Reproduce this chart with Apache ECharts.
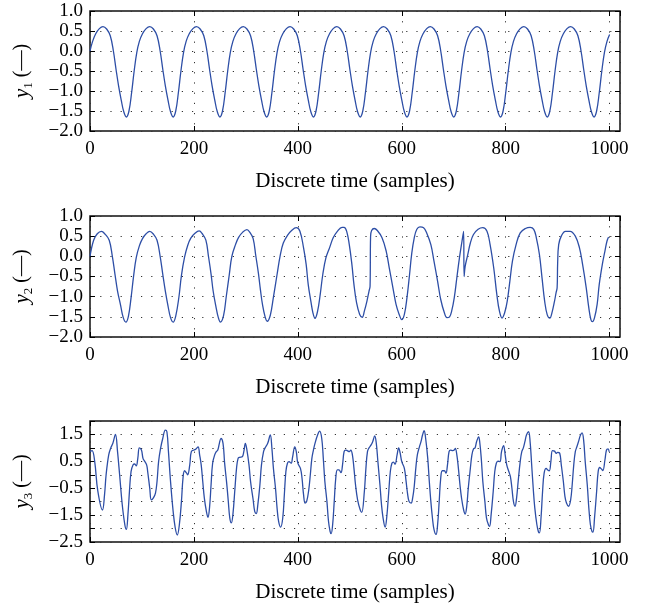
<!DOCTYPE html>
<html>
<head>
<meta charset="utf-8">
<script src="https://cdn.jsdelivr.net/npm/echarts@6/dist/echarts.min.js"></script>
<style>html,body{margin:0;padding:0;background:#fff}#c{width:645px;height:605px}</style>
</head>
<body>
<div id="c"></div>
<script>
// ---- data (sample index, value) ----
const t1 = [0,5,11,18,25,
 32,39,45,50,55,60,65,70,75,80,85,90,95,101,108,115,
 122,129,135,140,145,150,155,160,165,170,175,180,185,191,198,205,
 212,219,225,230,235,240,245,250,255,260,265,270,275,281,288,295,
 302,309,315,320,325,330,335,340,345,350,355,360,365,371,378,385,
 392,399,405,410,415,420,425,430,435,440,445,450,455,461,468,475,
 482,489,495,500,505,510,515,520,525,530,535,540,545,551,558,565,
 572,579,585,590,595,600,605,610,615,620,625,630,635,641,648,655,
 662,669,675,680,685,690,695,700,705,710,715,720,725,731,738,745,
 752,759,765,770,775,780,785,790,795,800,805,810,815,821,828,835,
 842,849,855,860,865,870,875,880,885,890,895,900,905,911,918,925,
 932,939,945,950,955,960,965,970,975,980,985,990,995,1000];
const y1 = [0.0,0.24,0.43,0.56,0.61,
 0.55,0.38,0.0,-0.45,-0.87,-1.22,-1.52,-1.65,-1.50,-1.05,-0.50,-0.04,0.24,0.43,0.56,0.61,
 0.55,0.38,0.0,-0.45,-0.87,-1.22,-1.52,-1.65,-1.50,-1.05,-0.50,-0.04,0.24,0.43,0.56,0.61,
 0.55,0.38,0.0,-0.45,-0.87,-1.22,-1.52,-1.65,-1.50,-1.05,-0.50,-0.04,0.24,0.43,0.56,0.61,
 0.55,0.38,0.0,-0.45,-0.87,-1.22,-1.52,-1.65,-1.50,-1.05,-0.50,-0.04,0.24,0.43,0.56,0.61,
 0.55,0.38,0.0,-0.45,-0.87,-1.22,-1.52,-1.65,-1.50,-1.05,-0.50,-0.04,0.24,0.43,0.56,0.61,
 0.55,0.38,0.0,-0.45,-0.87,-1.22,-1.52,-1.65,-1.50,-1.05,-0.50,-0.04,0.24,0.43,0.56,0.61,
 0.55,0.38,0.0,-0.45,-0.87,-1.22,-1.52,-1.65,-1.50,-1.05,-0.50,-0.04,0.24,0.43,0.56,0.61,
 0.55,0.38,0.0,-0.45,-0.87,-1.22,-1.52,-1.65,-1.50,-1.05,-0.50,-0.04,0.24,0.43,0.56,0.61,
 0.55,0.38,0.0,-0.45,-0.87,-1.22,-1.52,-1.65,-1.50,-1.05,-0.50,-0.04,0.24,0.43,0.56,0.61,
 0.55,0.38,0.0,-0.45,-0.87,-1.22,-1.52,-1.65,-1.50,-1.05,-0.50,-0.04,0.24,0.43,0.56,0.61,
 0.55,0.38,0.0,-0.45,-0.87,-1.22,-1.52,-1.65,-1.50,-1.05,-0.50,-0.04,0.24,0.41];

const t2 = [0,7,14,22,29,37,43,48,53,59,64,69,74,79,84,89,95,101,108,115,
 122,129,135,140,145,150,155,160,165,171,176,182,188,194,202,210,
 216,223,228,233,237,242,247,251,257,262,268,273,280,286,294,302,
 308,314,319,324,328,332,337,341,347,353,360,366,372,380,388,397,
 404,411,416,420,425,429,433,438,443,448,454,461,468,476,485,489,494,499,504,508,513,519,524,528,533,537,539,
 540,542,547,553,562,570,576,583,589,595,600,605,610,615,619,624,629,635,642,648,656,662,669,675,682,687,692,696,701,706,711,716,719,
 720,722,727,732,738,747,756,764,770,777,783,788,793,798,803,808,813,820,828,838,847,854,859,865,870,875,880,885,889,894,897,899,
 900,902,907,915,924,934,942,948,955,960,964,967,971,976,980,986,991,995,998];
const y2 = [0.0,0.40,0.56,0.62,0.55,0.40,0.0,-0.44,-0.86,-1.22,-1.52,-1.63,-1.48,-1.03,-0.48,-0.03,0.26,0.44,0.56,0.62,
 0.55,0.40,0.0,-0.44,-0.86,-1.22,-1.52,-1.63,-1.48,-1.02,-0.47,-0.02,0.27,0.45,0.57,0.63,
 0.56,0.40,0.0,-0.44,-0.86,-1.22,-1.52,-1.63,-1.47,-1.02,-0.46,0.0,0.29,0.47,0.60,0.66,
 0.59,0.44,0.02,-0.41,-0.83,-1.20,-1.50,-1.61,-1.46,-1.01,-0.45,0.02,0.33,0.52,0.64,0.71,
 0.62,0.21,-0.2,-0.7,-1.11,-1.4,-1.54,-1.36,-0.95,-0.45,-0.04,0.21,0.46,0.62,0.72,0.72,0.62,0.29,-0.2,-0.7,-1.15,-1.44,-1.51,-1.36,-1.11,-0.86,-0.74,
 0.5,0.64,0.69,0.64,0.46,0.13,-0.29,-0.78,-1.19,-1.44,-1.57,-1.44,-1.03,-0.45,0.05,0.46,0.67,0.73,0.71,0.58,0.29,-0.12,-0.62,-1.07,-1.4,-1.52,-1.5,-1.36,-1.03,-0.53,-0.04,0.38,0.62,
 -0.5,-0.25,0.04,0.33,0.54,0.67,0.71,0.62,0.29,-0.29,-0.95,-1.36,-1.53,-1.4,-1.11,-0.62,-0.12,0.29,0.58,0.69,0.72,0.67,0.46,0.04,-0.54,-1.11,-1.45,-1.53,-1.4,-1.11,-0.9,-0.78,
 -0.17,0.29,0.5,0.62,0.62,0.5,0.21,-0.2,-0.78,-1.28,-1.57,-1.62,-1.52,-1.19,-0.7,-0.2,0.13,0.38,0.48];

const t3 = [0,4,9,15,24,28,31,36,40,44,49,53,57,62,67,70,73,76,79,83,86,89,92,95,99,102,105,109,111,115,118,122,126,129,132,136,140,145,148,151,155,160,164,168,172,176,179,182,186,188,192,195,200,204,208,211,214,217,220,224,227,230,233,236,240,243,246,249,252,256,
 259,263,266,269,272,275,279,282,285,288,293,296,299,302,306,309,314,317,320,323,327,330,
 334,337,342,347,350,353,357,360,363,367,371,374,377,380,383,387,390,394,397,400,405,408,411,414,417,421,424,427,430,433,438,442,446,449,452,456,459,462,464,467,470,473,476,479,483,486,489,492,495,499,502,505,508,511,515,520,
 523,528,531,534,537,541,544,548,551,554,558,561,564,568,571,575,578,581,584,587,591,594,597,600,605,608,611,614,618,621,624,627,630,634,637,640,643,646,650,653,656,659,662,666,669,672,675,678,682,685,688,691,694,698,701,703,706,709,712,715,719,722,725,728,732,735,738,741,744,748,750,753,756,760,763,767,769,772,776,779,782,785,789,792,
 796,799,802,806,809,812,815,818,821,824,828,831,834,837,840,844,847,850,853,856,860,863,865,868,871,874,878,881,884,887,890,894,897,900,904,907,911,914,917,921,925,928,931,934,937,941,944,947,950,953,957,960,963,966,968,971,975,978,981,984,987,991,994,997,999];
const y3 = [0.86,0.90,0.50,-0.60,-1.31,-0.74,0.0,0.74,1.0,1.17,1.5,0.86,0.0,-1.1,-1.85,-2.03,-1.48,-0.6,0.12,0.37,0.40,0.33,0.61,1.0,0.92,0.61,0.51,0.37,0.12,-0.5,-0.93,-0.86,-0.68,-0.25,0.49,1.0,1.35,1.66,1.6,0.86,-0.25,-1.36,-1.97,-2.24,-1.85,-0.98,-0.12,0.15,0.06,0.0,0.37,0.86,0.92,0.96,1.04,0.74,0.37,-0.25,-0.86,-1.36,-1.58,-1.23,-0.37,0.43,0.74,0.86,0.92,1.17,1.35,1.17,
 0.45,-0.3,-0.95,-1.6,-1.79,-1.48,-0.5,0.24,0.61,0.65,0.67,0.86,1.17,0.92,0.37,-0.25,-0.93,-1.36,-1.44,-1.11,-0.37,0.37,
 0.86,1.0,1.17,1.48,1.0,0.24,-0.5,-1.23,-1.73,-1.95,-1.6,-0.74,0.12,0.43,0.49,0.43,0.67,1.04,0.86,0.43,0.24,-0.12,-0.74,-1.05,-0.99,-0.56,0.0,0.61,0.92,1.17,1.48,1.62,1.35,0.61,-0.25,-1.0,-1.73,-2.1,-2.19,-1.85,-1.0,-0.12,0.18,0.18,0.08,0.37,0.86,0.92,0.9,0.86,0.92,0.74,0.24,-0.37,-0.93,-1.3,
 -1.4,-0.62,0.24,0.86,1.0,1.11,1.23,1.45,1.17,0.5,-0.37,-1.11,-1.6,-1.95,-1.6,-0.62,0.12,0.43,0.47,0.39,0.74,1.0,0.8,0.49,0.24,-0.19,-0.68,-0.99,-1.05,-0.86,-0.43,0.24,0.74,1.04,1.23,1.48,1.64,1.35,0.61,-0.25,-1.0,-1.6,-2.03,-2.22,-1.85,-1.0,-0.12,0.15,0.15,0.06,0.37,0.86,0.92,0.9,0.92,0.98,0.74,0.24,-0.37,-0.86,-1.3,-1.46,-1.18,-0.5,0.24,0.74,0.96,1.0,1.23,1.41,1.23,0.61,-0.25,-1.0,-1.6,-1.87,-1.92,-1.48,-0.62,0.12,0.43,0.51,0.49,0.86,
 1.08,0.74,0.37,0.12,-0.06,-0.5,-1.0,-1.17,-0.86,-0.25,0.5,0.86,1.0,1.23,1.48,1.6,1.23,0.37,-0.5,-1.23,-1.85,-2.12,-2.16,-1.6,-0.62,0.06,0.24,0.18,0.15,0.5,0.9,0.88,0.8,0.83,0.8,0.37,-0.25,-0.8,-1.05,-1.17,-0.93,-0.37,0.37,0.86,1.04,1.29,1.48,1.56,1.29,0.5,-0.37,-1.23,-1.85,-2.1,-2.13,-1.6,-0.62,0.12,0.27,0.22,0.16,0.55,0.92,0.96,0.86];

const xTicks = {min: 0, max: 1020, interval: 200};
const yRange12 = {min: -2, max: 1, interval: 0.5};
const yRange3 = {min: -2.5, max: 2, interval: 0.5};
const yLabeled3 = [1.5, 0.5, -0.5, -1.5, -2.5];

// ---- layout / style ----
const FONT = 'Liberation Serif';
const LINE = '#2d4ea6';
const tops = [11, 216, 421];
const heights = [120, 121, 121];
const names = ['1', '2', '3'];

function fmt(v) {
  const s = Math.abs(v).toFixed(1);
  return v < 0 ? '\u2212' + s : s;
}

const grid = [], xAxis = [], yAxis = [], series = [];
const tick = {inside: true, length: 5, lineStyle: {color: '#000', width: 1}};
const split = {show: true, lineStyle: {color: '#333', type: [1.2, 9], width: 1}};
const noLine = {show: false, onZero: false};
for (let i = 0; i < 3; i++) {
  grid.push({left: 90, width: 530, top: tops[i], height: heights[i], show: true,
    borderColor: '#111', borderWidth: 1.5, backgroundColor: 'transparent'});
  xAxis.push({type: 'value', gridIndex: i, position: 'bottom', min: xTicks.min, max: xTicks.max, interval: xTicks.interval,
    axisLine: noLine, axisTick: tick, splitLine: split,
    axisLabel: {color: '#000', fontFamily: FONT, fontSize: 19, margin: 9, showMaxLabel: false,
      formatter: v => (v > 1000 ? '' : String(v))},
    name: 'Discrete time (samples)', nameLocation: 'middle', nameGap: 40,
    nameTextStyle: {color: '#000', fontFamily: FONT, fontSize: 21}});
  xAxis.push({type: 'value', gridIndex: i, position: 'top', min: xTicks.min, max: xTicks.max, interval: xTicks.interval,
    axisLine: noLine, axisTick: tick, splitLine: {show: false}, axisLabel: {show: false}});
  const yr = i < 2 ? yRange12 : yRange3;
  yAxis.push({type: 'value', gridIndex: i, position: 'left', min: yr.min, max: yr.max, interval: yr.interval,
    axisLine: noLine, axisTick: tick, splitLine: split,
    axisLabel: {color: '#000', fontFamily: FONT, fontSize: 19, margin: 7,
      formatter: v => {
        if (i === 2) return yLabeled3.some(a => Math.abs(a - v) < 1e-6) ? fmt(v) : '';
        return fmt(v);
      }},
    name: '{i|y}{s|' + names[i] + '}{n| (\u2014)}', nameLocation: 'middle', nameGap: 55,
    nameTextStyle: {rich: {
      i: {fontFamily: FONT, fontStyle: 'italic', fontSize: 21, color: '#000', lineHeight: 26},
      s: {fontFamily: FONT, fontSize: 13, color: '#000', verticalAlign: 'bottom', lineHeight: 26},
      n: {fontFamily: FONT, fontSize: 20, color: '#000', lineHeight: 26}
    }}});
  yAxis.push({type: 'value', gridIndex: i, position: 'right', min: yr.min, max: yr.max, interval: yr.interval,
    axisLine: noLine, axisTick: tick, splitLine: {show: false}, axisLabel: {show: false}});
}
const T = [t1, t2, t3], Y = [y1, y2, y3];
for (let i = 0; i < 3; i++) {
  series.push({type: 'line', xAxisIndex: 2 * i, yAxisIndex: 2 * i, showSymbol: false,
    smooth: 0.4, silent: true, animation: false,
    lineStyle: {color: LINE, width: 1.3},
    data: T[i].map((t, k) => [t, Y[i][k]])});
}
const chart = echarts.init(document.getElementById('c'), null, {renderer: 'canvas'});
chart.setOption({animation: false, grid, xAxis, yAxis, series});
</script>
</body>
</html>
